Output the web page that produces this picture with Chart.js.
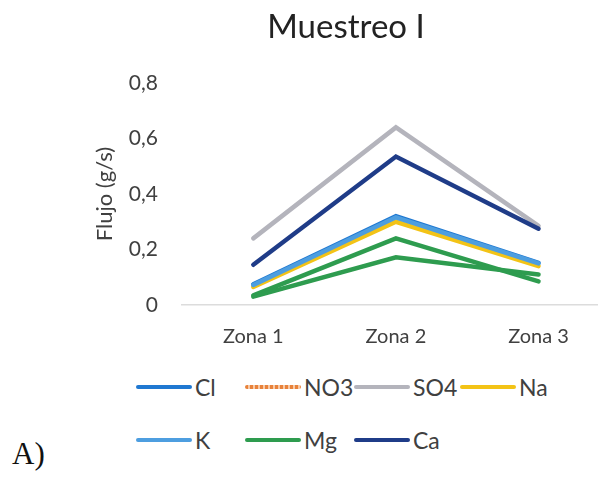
<!DOCTYPE html>
<html>
<head>
<meta charset="utf-8">
<script src="https://cdn.jsdelivr.net/npm/chart.js@4/dist/chart.umd.min.js"></script>
<style>
  html, body { margin: 0; padding: 0; background: #fff; width: 598px; height: 481px; overflow: hidden; }
  #wrap { position: absolute; left: 0; top: 0; width: 598px; height: 360px; }
  .item { position: absolute; display: flex; align-items: center; height: 28px;
          font-family: Lato, sans-serif; font-size: 23px; color: #404040; white-space: nowrap; }
  .sw { width: 56px; height: 4px; border-radius: 2px; margin-right: 3px; }
  #tag { position: absolute; left: 12px; top: 436px; font-family: "Liberation Serif", serif;
         font-size: 31px; color: #111; }
</style>
</head>
<body>
<div id="wrap"><canvas id="c" width="598" height="360"></canvas></div>
<div id="legend"></div>
<div id="tag">A)</div>
<script>
// Sampling zones and y-axis labels
const chartTitle = 'Muestreo I';
const categories = ['Zona 1', 'Zona 2', 'Zona 3'];
const yTickLabels = ['0', '0,2', '0,4', '0,6', '0,8'];

// Ion flux per zone (g/s)
const cl  = [0.075, 0.320, 0.152];
const no3 = [0.030, 0.172, 0.110];
const so4 = [0.240, 0.640, 0.285];
const na  = [0.065, 0.300, 0.140];
const k   = [0.072, 0.316, 0.150];
const mg  = [0.035, 0.240, 0.085];
const mg2 = [0.030, 0.172, 0.110];
const ca  = [0.145, 0.535, 0.275];

const series = [
  { label: 'Cl',  data: cl,  color: '#1f78d1' },
  { label: 'NO3', data: no3, color: '#e8823a', dash: [2, 2] },
  { label: 'SO4', data: so4, color: '#b4b4bc' },
  { label: 'Na',  data: na,  color: '#f3c316' },
  { label: 'K',   data: k,   color: '#4d9ee0' },
  { label: 'Mg',  data: mg,  color: '#2e9c4f' },
  { label: 'Mg (2)', data: mg2, color: '#2e9c4f', hideInLegend: true },
  { label: 'Ca',  data: ca,  color: '#1f3c88' }
];

// later series sit on top of earlier ones
const datasets = series.map((s, i) => ({
  label: s.label,
  data: s.data.map((v, j) => ({ x: j + 1, y: v })),
  borderColor: s.color,
  backgroundColor: s.color,
  borderWidth: s.dash ? 3 : 4.5,
  borderDash: s.dash || [],
  borderCapStyle: 'round',
  pointRadius: 0,
  tension: 0,
  order: series.length - i
}));

const titlePlugin = {
  id: 'plotTitle',
  afterDraw(chart) {
    const c = chart.ctx;
    c.save();
    c.font = '33px Lato';
    c.fillStyle = '#222';
    c.textAlign = 'center';
    c.textBaseline = 'alphabetic';
    c.fillText(chartTitle, 346, 38);
    c.restore();
  }
};

new Chart(document.getElementById('c'), {
  type: 'line',
  data: { datasets },
  plugins: [titlePlugin],
  options: {
    responsive: false,
    animation: false,
    layout: { padding: { left: 88, top: 83, right: 1, bottom: 0 } },
    plugins: { legend: { display: false }, tooltip: { enabled: false }, title: { display: false } },
    scales: {
      x: {
        type: 'linear',
        min: 0.5,
        max: 3.41,
        afterBuildTicks: s => { s.ticks = categories.map((_, i) => ({ value: i + 1 })); },
        afterFit: s => { s.height = 55; },
        grid: { display: false, drawTicks: false },
        border: { display: true, color: '#dcdcdc', width: 1.5 },
        ticks: {
          padding: 20,
          color: '#404040',
          font: { family: 'Lato', size: 20 },
          maxRotation: 0,
          callback: v => categories[v - 1]
        }
      },
      y: {
        min: 0,
        max: 0.8,
        afterFit: s => { s.width = 94; },
        grid: { display: false, drawTicks: false },
        border: { display: false },
        ticks: {
          stepSize: 0.2,
          padding: 24,
          color: '#404040',
          font: { family: 'Lato', size: 21 },
          callback: (v, i) => yTickLabels[i]
        },
        title: {
          display: true,
          text: 'Flujo (g/s)',
          color: '#404040',
          font: { family: 'Lato', size: 22 }
        }
      }
    }
  }
});

// Legend laid out in a fixed two-row grid
const legendPos = [
  [136, 387], [245, 387], [354, 387], [460, 387],
  [136, 440], [245, 440], [354, 440]
];
const legend = document.getElementById('legend');
series.filter(s => !s.hideInLegend).forEach((s, i) => {
  const item = document.createElement('div');
  item.className = 'item';
  item.style.left = legendPos[i][0] + 'px';
  item.style.top = (legendPos[i][1] - 14) + 'px';
  const sw = document.createElement('span');
  sw.className = 'sw';
  sw.style.background = s.dash
    ? 'repeating-linear-gradient(90deg,' + s.color + ' 0 3px, #f7c9a6 3px 5px)'
    : s.color;
  const txt = document.createElement('span');
  txt.textContent = s.label;
  item.appendChild(sw);
  item.appendChild(txt);
  legend.appendChild(item);
});
</script>
</body>
</html>
